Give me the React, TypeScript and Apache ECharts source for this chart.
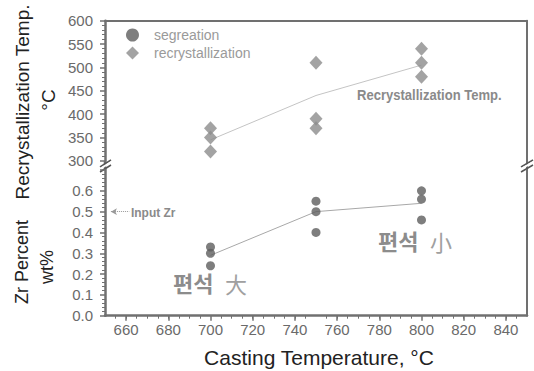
import React, { useEffect, useRef } from "react";
import * as echarts from "echarts";

const temps = [700, 750, 800];
const recrystValues = [
  [370, 350, 320],
  [510, 390, 370],
  [540, 510, 480],
];
const recrystTrend = [345, 440, 505];
const segValues = [
  [0.33, 0.3, 0.24],
  [0.55, 0.5, 0.4],
  [0.6, 0.56, 0.46],
];
const segTrend = [0.29, 0.5, 0.54];
const inputZr = 0.5;
const xTickLabels = [660, 680, 700, 720, 740, 760, 780, 800, 820, 840];
const zrTickLabels = [0, 0.1, 0.2, 0.3, 0.4, 0.5, 0.6];

const AXIS_COLOR = "#707070";
const LABEL_COLOR = "#6a6a6a";
const FONT = "'Liberation Sans', Arial, sans-serif";

export default function App() {
  const ref = useRef<HTMLDivElement>(null);
  useEffect(() => {
    if (!ref.current) return;
    const chart = echarts.init(ref.current, null, { renderer: "svg" });
    const recrystPts: number[][] = [];
    temps.forEach((t, i) => recrystValues[i].forEach((v) => recrystPts.push([t, v])));
    const segPts: number[][] = [];
    temps.forEach((t, i) => segValues[i].forEach((v) => segPts.push([t, v])));

    const axisLine = { show: true, lineStyle: { color: AXIS_COLOR, width: 2.5 } };
    const frameLine = { show: true, lineStyle: { color: AXIS_COLOR, width: 2 } };
    const labelStyle = { color: LABEL_COLOR, fontSize: 15, fontFamily: FONT };

    const annot = (text: string, x: number, y: number, extra: any = {}) => ({
      type: "text",
      x,
      y,
      silent: true,
      style: {
        text,
        fill: "#222",
        fontSize: 19,
        fontFamily: FONT,
        align: "center",
        verticalAlign: "middle",
        ...extra,
      },
    });

    chart.setOption({
      animation: false,
      backgroundColor: "#fff",
      grid: [
        { left: 105, right: 7, top: 20.7, height: 140.2 },
        { left: 105, right: 7, top: 170, height: 145.7 },
      ],
      legend: {
        orient: "vertical",
        left: 121,
        top: 23,
        itemWidth: 13,
        itemHeight: 13,
        itemGap: 4,
        data: ["segreation", "recrystallization"],
        textStyle: { color: "#9a9a9a", fontSize: 14, fontFamily: FONT, padding: [0, 0, 0, 10] },
      },
      xAxis: [
        {
          gridIndex: 0,
          type: "value",
          min: 650,
          max: 850,
          interval: 50,
          position: "top",
          axisLine: frameLine,
          axisTick: { show: false },
          axisLabel: { show: false },
          splitLine: { show: false },
        },
        {
          gridIndex: 1,
          type: "value",
          min: 650,
          max: 850,
          interval: 50,
          axisLine: axisLine,
          axisTick: {
            show: true,
            customValues: xTickLabels,
            length: 5,
            lineStyle: { color: AXIS_COLOR, width: 1.5 },
          },
          minorTick: { show: true, splitNumber: 10, length: 3, lineStyle: { color: AXIS_COLOR } },
          axisLabel: { ...labelStyle, margin: 6, customValues: xTickLabels },
          splitLine: { show: false },
          minorSplitLine: { show: false },
        },
      ],
      yAxis: [
        {
          gridIndex: 0,
          type: "value",
          min: 300,
          max: 600,
          interval: 50,
          axisLine: axisLine,
          axisTick: { show: true, length: 5, lineStyle: { color: AXIS_COLOR, width: 1.5 } },
          minorTick: { show: true, splitNumber: 5, length: 3, lineStyle: { color: AXIS_COLOR } },
          axisLabel: { ...labelStyle, margin: 12 },
          splitLine: { show: false },
        },
        {
          gridIndex: 1,
          type: "value",
          min: 0,
          max: 0.7,
          interval: 0.1,
          axisLine: axisLine,
          axisTick: { show: true, length: 5, lineStyle: { color: AXIS_COLOR, width: 1.5 } },
          minorTick: { show: true, splitNumber: 5, length: 3, lineStyle: { color: AXIS_COLOR } },
          axisLabel: {
            ...labelStyle,
            margin: 12,
            customValues: zrTickLabels,
            showMinLabel: true,
            formatter: (v: number) => v.toFixed(1),
          },
          splitLine: { show: false },
        },
        {
          gridIndex: 0,
          type: "value",
          min: 300,
          max: 600,
          position: "right",
          axisLine: frameLine,
          axisTick: { show: false },
          axisLabel: { show: false },
          splitLine: { show: false },
        },
        {
          gridIndex: 1,
          type: "value",
          min: 0,
          max: 0.7,
          position: "right",
          axisLine: frameLine,
          axisTick: { show: false },
          axisLabel: { show: false },
          splitLine: { show: false },
        },
      ],
      series: [
        {
          name: "recrystallization trend",
          type: "line",
          xAxisIndex: 0,
          yAxisIndex: 0,
          data: temps.map((t, i) => [t, recrystTrend[i]]),
          symbol: "none",
          lineStyle: { color: "#c4c4c4", width: 1 },
          silent: true,
          z: 1,
        },
        {
          name: "segreation trend",
          type: "line",
          xAxisIndex: 1,
          yAxisIndex: 1,
          data: temps.map((t, i) => [t, segTrend[i]]),
          symbol: "none",
          lineStyle: { color: "#a8a8a8", width: 1 },
          silent: true,
          z: 1,
          markLine: {
            silent: true,
            symbol: ["arrow", "none"],
            symbolSize: [5, 6],
            label: { show: false },
            lineStyle: { color: "#999", width: 1, type: "dotted" },
            data: [[{ coord: [652.8, inputZr] }, { coord: [661.5, inputZr] }]],
          },
        },
        {
          name: "recrystallization",
          type: "scatter",
          xAxisIndex: 0,
          yAxisIndex: 0,
          symbol: "diamond",
          symbolSize: [13, 14],
          itemStyle: { color: "#8c8c8c" },
          data: recrystPts,
          z: 3,
        },
        {
          name: "segreation",
          type: "scatter",
          xAxisIndex: 1,
          yAxisIndex: 1,
          symbol: "circle",
          symbolSize: 9,
          itemStyle: { color: "#5e5e5e" },
          data: segPts,
          z: 3,
        },
      ],
      graphic: [
        // axis continuation through the break
        { type: "line", silent: true, shape: { x1: 105, y1: 160.9, x2: 105, y2: 170 }, style: { stroke: AXIS_COLOR, lineWidth: 2.5 } },
        { type: "line", silent: true, shape: { x1: 527, y1: 160.9, x2: 527, y2: 170 }, style: { stroke: AXIS_COLOR, lineWidth: 2 } },
        // break marks left
        { type: "line", silent: true, shape: { x1: 100, y1: 167, x2: 111, y2: 160 }, style: { stroke: "#555", lineWidth: 1.5 } },
        { type: "line", silent: true, shape: { x1: 100, y1: 172, x2: 111, y2: 165 }, style: { stroke: "#555", lineWidth: 1.5 } },
        { type: "line", silent: true, shape: { x1: 99, y1: 169.5, x2: 112, y2: 161.5 }, style: { stroke: "#fff", lineWidth: 2 } },
        // break marks right
        { type: "line", silent: true, shape: { x1: 521, y1: 167, x2: 533, y2: 160 }, style: { stroke: "#555", lineWidth: 1.5 } },
        { type: "line", silent: true, shape: { x1: 521, y1: 172, x2: 533, y2: 165 }, style: { stroke: "#555", lineWidth: 1.5 } },
        { type: "line", silent: true, shape: { x1: 520, y1: 169.5, x2: 534, y2: 161.5 }, style: { stroke: "#fff", lineWidth: 2 } },
        // axis titles
        { ...annot("Recrystallization Temp.", 22, 102), rotation: Math.PI / 2 },
        { ...annot("°C", 48, 100), rotation: Math.PI / 2 },
        { ...annot("Zr Percent", 22, 262, { fontSize: 18 }), rotation: Math.PI / 2 },
        { ...annot("wt%", 47, 267, { fontSize: 18 }), rotation: Math.PI / 2 },
        annot("Casting Temperature, °C", 319, 357, { fontSize: 21 }),
        // annotations
        {
          ...annot("Recrystallization Temp.", 0, 0, {
            align: "left",
            fontSize: 15,
            fontWeight: "bold",
            fill: "#8a8a8a",
          }),
          x: 357,
          y: 95,
          scaleX: 0.87,
        },
        {
          ...annot("Input Zr", 0, 0, {
            align: "left",
            fontSize: 13,
            fontWeight: "bold",
            fill: "#8a8a8a",
          }),
          x: 131,
          y: 213,
          scaleX: 0.92,
        },
        annot("편석", 173, 282, {
          align: "left",
          fontSize: 22,
          fontWeight: "bold",
          fontFamily: "'Noto Sans CJK KR', sans-serif",
          fill: "#8c8c8c",
        }),
        annot("大", 225, 283, {
          align: "left",
          fontSize: 22,
          fontFamily: "'Noto Sans CJK KR', sans-serif",
          fill: "#a0a0a0",
        }),
        annot("편석", 378, 240, {
          align: "left",
          fontSize: 22,
          fontWeight: "bold",
          fontFamily: "'Noto Sans CJK KR', sans-serif",
          fill: "#8c8c8c",
        }),
        annot("小", 430, 241, {
          align: "left",
          fontSize: 22,
          fontFamily: "'Noto Sans CJK KR', sans-serif",
          fill: "#a0a0a0",
        }),
      ],
    });
    return () => chart.dispose();
  }, []);
  return (
    <div
      ref={ref}
      style={{ position: "absolute", left: 0, top: 0, width: 534, height: 371, background: "#fff" }}
    />
  );
}
